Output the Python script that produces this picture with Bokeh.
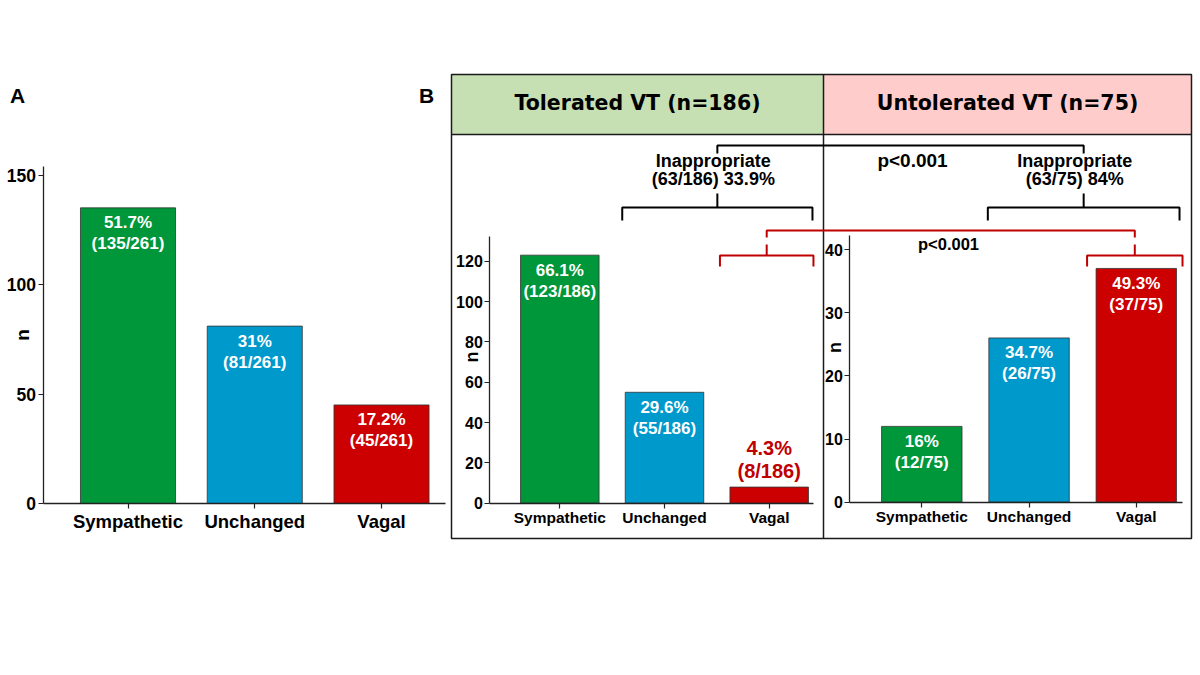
import math
from bokeh.plotting import figure
from bokeh.models import Range1d, LinearAxis, FixedTicker
from bokeh.core.properties import value
from bokeh.embed import file_html
from bokeh.resources import INLINE

# ---------------- data ----------------
categories = ["Sympathetic", "Unchanged", "Vagal"]
all_counts = [135, 81, 45]          # panel A, all VT
tolerated_counts = [123, 55, 8]     # panel B, tolerated VT
untolerated_counts = [12, 26, 37]   # panel B, untolerated VT
a_ticks = [0, 50, 100, 150]
b1_ticks = [0, 20, 40, 60, 80, 100, 120]
b2_ticks = [0, 10, 20, 30, 40]
p_value_text = "p<0.001"
tolerated_title = "Tolerated VT"
untolerated_title = "Untolerated VT"
inappropriate_text = "Inappropriate"

bar_colors = ["#00963a", "#0099cc", "#cc0000"]
RED = "#c00000"
FONT = "Liberation Sans"

W, H = 1200, 670
OX, OY = 0, 0

p = figure(width=W, height=H, output_backend="svg", toolbar_location=None,
           x_range=Range1d(OX, OX + W), y_range=Range1d(OY + H, OY),
           x_axis_type=None, y_axis_type=None, min_border=0, title=None)
p.outline_line_color = None
p.background_fill_color = "white"
p.border_fill_color = "white"


def pct_text(c, total):
    s = f"{100 * c / total:.1f}"
    if s.endswith(".0"):
        s = s[:-2]
    return s + "%"


def txt(x, y, t, size, color="black", bold=True, font=FONT, angle=0.0, align="center"):
    p.text(x=[x], y=[y], text=[t], text_font=value(font), text_font_size=size,
           text_font_style="bold" if bold else "normal", text_color=color,
           text_align=align, text_baseline="middle", angle=angle)


def make_panel(name, counts, px_x0, px_dx, px_y0, ppu, axis_top, axis_px, xend_px,
               ticks, tick_size, cat_size, cat_standoff, n_size, n_dx, n_value):
    total = sum(counts)
    xname, yname = name + "_x", name + "_y"
    p.extra_x_ranges[xname] = Range1d((OX - px_x0) / px_dx, (OX + W - px_x0) / px_dx)
    p.extra_y_ranges[yname] = Range1d((px_y0 - (OY + H)) / ppu, (px_y0 - OY) / ppu)
    idx = list(range(len(counts)))
    bw = 0.75
    p.vbar(x=idx, top=counts, bottom=0, width=bw, fill_color=bar_colors,
           line_color="#333333", line_width=0.8, x_range_name=xname, y_range_name=yname)

    yax = LinearAxis(y_range_name=yname, fixed_location=axis_px, bounds=(0, axis_top),
                     ticker=FixedTicker(ticks=ticks))
    xax = LinearAxis(x_range_name=xname, y_range_name=yname, fixed_location=0,
                     bounds=((axis_px - px_x0) / px_dx, (xend_px - px_x0) / px_dx),
                     ticker=FixedTicker(ticks=idx),
                     major_label_overrides={i: c for i, c in zip(idx, categories)})
    for ax, size, stand in ((yax, tick_size, 2), (xax, cat_size, cat_standoff)):
        ax.axis_line_color = "#222222"
        ax.axis_line_width = 1.3
        ax.major_tick_line_color = "#222222"
        ax.major_tick_line_width = 1.2
        ax.major_tick_in = 0
        ax.major_tick_out = 5
        ax.minor_tick_line_color = None
        ax.major_label_text_font = FONT
        ax.major_label_text_font_size = size
        ax.major_label_text_font_style = "bold"
        ax.major_label_text_color = "black"
        ax.major_label_standoff = stand
    p.add_layout(yax, "left")
    p.add_layout(xax, "below")

    # axis title "n", placed in the gap between two tick labels
    p.text(x=[axis_px - n_dx], y=[n_value], text=["n"], y_range_name=yname,
           text_font=value(FONT), text_font_size=n_size, text_font_style="bold",
           text_color="black", text_align="center", text_baseline="middle",
           angle=math.pi / 2)

    # bar labels
    pct = [pct_text(c, total) for c in counts]
    frac = [f"({c}/{total})" for c in counts]
    inside = [c / axis_top >= 0.15 for c in counts]
    for sel, color, size, offs in ((True, "white", "17px", (15, 36)),
                                   (False, RED, "20px", (-39, -16))):
        xs = [i for i in idx if inside[i] == sel]
        if not xs:
            continue
        ys = [counts[i] for i in xs]
        for lab, off in ((pct, offs[0]), (frac, offs[1])):
            p.text(x=xs, y=ys, text=[lab[i] for i in xs], x_range_name=xname,
                   y_range_name=yname, y_offset=off, text_font=value(FONT),
                   text_font_size=size, text_font_style="bold", text_color=color,
                   text_align="center", text_baseline="middle")

    def bar_px(i):
        c = px_x0 + i * px_dx
        return c - bw * px_dx / 2, c + bw * px_dx / 2
    return bar_px


# ---------------- panel A ----------------
make_panel("a", all_counts, 127.5, 126.75, 503.0, 2.19, 154, 42.5, 445,
           a_ticks, "17.5px", "18.5px", 2, "19px", 21, 77)
txt(17, 95, "A", "21px")

# ---------------- panel B frame ----------------
BL, BR, BT, BB, BH, BD = 451, 1191, 74, 538, 134, 823
p.quad(left=[BL, BD], right=[BD, BR], top=[BT, BT], bottom=[BH, BH],
       fill_color=["#c6e0b4", "#ffcccc"], line_color=None)
p.quad(left=[BL], right=[BR], top=[BT], bottom=[BB], fill_color=None,
       line_color="#1a1a1a", line_width=1.5)
p.multi_line(xs=[[BL, BR], [BD, BD]], ys=[[BH, BH], [BT, BB]],
             line_color="#1a1a1a", line_width=1.5)
txt(426, 95, "B", "21px")
txt((BL + BD) / 2, 102.5, f"{tolerated_title} (n={sum(tolerated_counts)})", "20.5px",
    font="DejaVu Sans")
txt((BD + BR) / 2, 102.5, f"{untolerated_title} (n={sum(untolerated_counts)})", "20.5px",
    font="DejaVu Sans")

b1_px = make_panel("b1", tolerated_counts, 559.3, 104.7, 502.7, 2.0167, 132, 489.3, 813,
                   b1_ticks, "16px", "15.5px", 1, "18px", 18, 72.5)
b2_px = make_panel("b2", untolerated_counts, 921.3, 107.25, 501.7, 6.3175, 42.2, 849.3, 1181.7,
                   b2_ticks, "16px", "15.5px", 1, "18px", 15, 24.5)


# ---------------- brackets ----------------
def bracket(xl, xr, yh, yend, ytick, color):
    xc = (xl + xr) / 2
    p.multi_line(xs=[[xl, xl, xr, xr], [xc, xc]], ys=[[yend, yh, yh, yend], [ytick, yh]],
                 line_color=color, line_width=2)
    return xc


def connector(x1, x2, y, ydown, color):
    p.multi_line(xs=[[x1, x1, x2, x2]], ys=[[ydown, y, y, ydown]], line_color=color, line_width=2)


# black: unchanged + vagal (inappropriate)
bl_l = bracket(b1_px(1)[0] - 3, b1_px(2)[1] + 4, 207, 220, 193, "black")
bl_r = bracket(b2_px(1)[0] - 1, b2_px(2)[1] + 3, 207, 220, 193, "black")
connector(bl_l, bl_r, 145, 153, "black")
# red: vagal only
rd_l = bracket(b1_px(2)[0] - 10, b1_px(2)[1] + 5, 255, 266, 244, RED)
rd_r = bracket(b2_px(2)[0] - 9, b2_px(2)[1] + 6, 255, 266, 244, RED)
connector(rd_l, rd_r, 230, 237, RED)

inap_t = tolerated_counts[1] + tolerated_counts[2]
inap_u = untolerated_counts[1] + untolerated_counts[2]
nt, nu = sum(tolerated_counts), sum(untolerated_counts)
txt(bl_l - 4, 160, inappropriate_text, "18px")
txt(bl_l - 4, 178, f"({inap_t}/{nt}) {pct_text(inap_t, nt)}", "18px")
txt(bl_r - 9, 160, inappropriate_text, "18px")
txt(bl_r - 9, 178, f"({inap_u}/{nu}) {pct_text(inap_u, nu)}", "18px")
txt(912, 160, p_value_text, "19px")
txt(948, 243, p_value_text, "16.5px")

open("out.html", "w").write(file_html(p, INLINE))
